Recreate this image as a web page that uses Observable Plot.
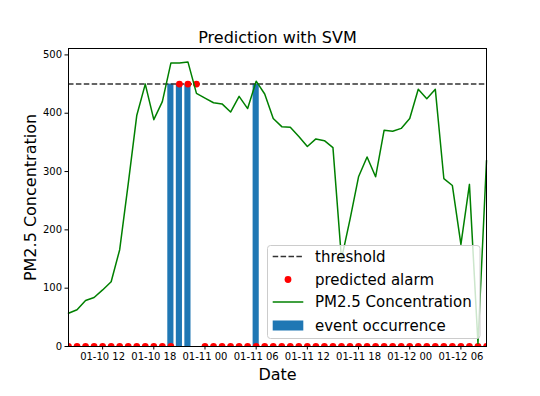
<!DOCTYPE html>
<html><head><meta charset="utf-8">
<script src="https://cdn.jsdelivr.net/npm/d3@7"></script>
<script src="https://cdn.jsdelivr.net/npm/@observablehq/plot@0.6"></script>
<style>
body{margin:0;background:#fff;}
#wrap{position:relative;width:540px;height:396px;font-family:"DejaVu Sans",sans-serif;}
#legend{position:absolute;left:0;top:0;pointer-events:none;}
</style></head><body><div id="wrap"></div>
<script>
// hourly observations
const startTime = "2015-01-10T08:00Z";
const endTime = "2015-01-12T09:00Z";
const pm25 = [57, 63, 79, 84, 97, 111, 166, 279, 396, 450,
              389, 420, 486, 486, 488, 434, 426, 418, 416, 402,
              429, 408, 455, 433, 391, 377, 376, 360, 343, 356,
              353, 341, 150, 218, 291, 325, 291, 371, 369, 374,
              391, 441, 425, 441, 288, 276, 175, 278, 5, 319];
const predicted = [0,0,0,0,0,0,0,0,0,0, 0,0,0,1,1,1,0,0,0,0, 0,0,0,0,0,0,0,0,0,0,
                   0,0,0,0,0,0,0,0,0,0, 0,0,0,0,0,0,0,0,0,0];
const events =    [0,0,0,0,0,0,0,0,0,0, 0,0,1,1,1,0,0,0,0,0, 0,0,1,0,0,0,0,0,0,0,
                   0,0,0,0,0,0,0,0,0,0, 0,0,0,0,0,0,0,0,0,0];
const threshold = 450;
const xTickLabels = ["2015-01-10T12:00Z","2015-01-10T18:00Z","2015-01-11T00:00Z",
                     "2015-01-11T06:00Z","2015-01-11T12:00Z","2015-01-11T18:00Z",
                     "2015-01-12T00:00Z","2015-01-12T06:00Z"];
const yTicks = [0, 100, 200, 300, 400, 500];
const legendItems = ["threshold", "predicted alarm", "PM2.5 Concentration", "event occurrence"];

const dates = d3.utcHour.range(new Date(startTime), d3.utcHour.offset(new Date(endTime), 1));
const rows = dates.map((d, i) => ({date: d, pm: pm25[i], pred: predicted[i], ev: events[i]}));
const eventRows = rows.filter(r => r.ev === 1);
const halfBar = 0.36 * 3600e3;

const chart = Plot.plot({
  width: 540, height: 396,
  marginLeft: 68, marginRight: 54, marginTop: 48, marginBottom: 50,
  style: {fontFamily: "DejaVu Sans, sans-serif", fontSize: "10px", background: "#fff", color: "#000"},
  x: {type: "utc", domain: [new Date(startTime), new Date(endTime)]},
  y: {domain: [0, 511]},
  marks: [
    Plot.rectY(eventRows, {x1: d => new Date(+d.date - halfBar), x2: d => new Date(+d.date + halfBar),
      y1: 0, y2: threshold, fill: "#1f77b4"}),
    Plot.ruleY([threshold], {stroke: "#333", strokeWidth: 1.5, strokeDasharray: "5.5,2.4"}),
    Plot.dot(rows, {x: "date", y: d => d.pred * threshold, r: 3.4, fill: "red", clip: true}),
    Plot.line(rows, {x: "date", y: "pm", stroke: "#008000", strokeWidth: 1.5}),
    Plot.frame({stroke: "#000", strokeWidth: 1}),
    Plot.axisX({ticks: xTickLabels.map(s => new Date(s)), tickFormat: d3.utcFormat("%m-%d %H"),
      tickSize: 3.5, tickPadding: 3, label: null, fontSize: 10}),
    Plot.axisY({ticks: yTicks, tickSize: 3.5, tickPadding: 3, label: null, fontSize: 10}),
    Plot.text(["Prediction with SVM"], {frameAnchor: "top", dy: -11, fontSize: 16, textAnchor: "middle", lineAnchor: "middle", fill: "#000"}),
    Plot.text(["Date"], {frameAnchor: "bottom", dy: 28, fontSize: 16, textAnchor: "middle", lineAnchor: "middle", fill: "#000"}),
    Plot.text(["PM2.5 Concentration"], {frameAnchor: "left", dx: -38, rotate: -90, fontSize: 16, textAnchor: "middle", lineAnchor: "middle", fill: "#000"})
  ]
});
document.getElementById("wrap").appendChild(chart);

// legend overlay
const lg = d3.select("#wrap").append("svg").attr("id", "legend")
  .attr("width", 540).attr("height", 396);
lg.append("rect").attr("x", 267.5).attr("y", 245.5).attr("width", 212.5).attr("height", 93)
  .attr("rx", 3).attr("fill", "rgba(255,255,255,0.8)").attr("stroke", "#ccc").attr("stroke-width", 1);
const rowY = [256.5, 279.5, 302, 325.5];
const hx1 = 272.7, hx2 = 303.3, hxm = (hx1 + hx2) / 2;
lg.append("line").attr("x1", hx1).attr("x2", hx2).attr("y1", rowY[0]).attr("y2", rowY[0])
  .attr("stroke", "#333").attr("stroke-width", 1.5).attr("stroke-dasharray", "5.5,2.4");
lg.append("circle").attr("cx", hxm).attr("cy", rowY[1]).attr("r", 3.4).attr("fill", "red");
lg.append("line").attr("x1", hx1).attr("x2", hx2).attr("y1", rowY[2]).attr("y2", rowY[2])
  .attr("stroke", "#008000").attr("stroke-width", 1.5);
lg.append("rect").attr("x", hx1).attr("y", rowY[3] - 5).attr("width", hx2 - hx1).attr("height", 10).attr("fill", "#1f77b4");
legendItems.forEach((t, i) => {
  lg.append("text").attr("x", 315).attr("y", rowY[i]).attr("dominant-baseline", "central")
    .attr("font-family", "DejaVu Sans, sans-serif").attr("font-size", 15).attr("fill", "#000").text(t);
});
</script></body></html>
